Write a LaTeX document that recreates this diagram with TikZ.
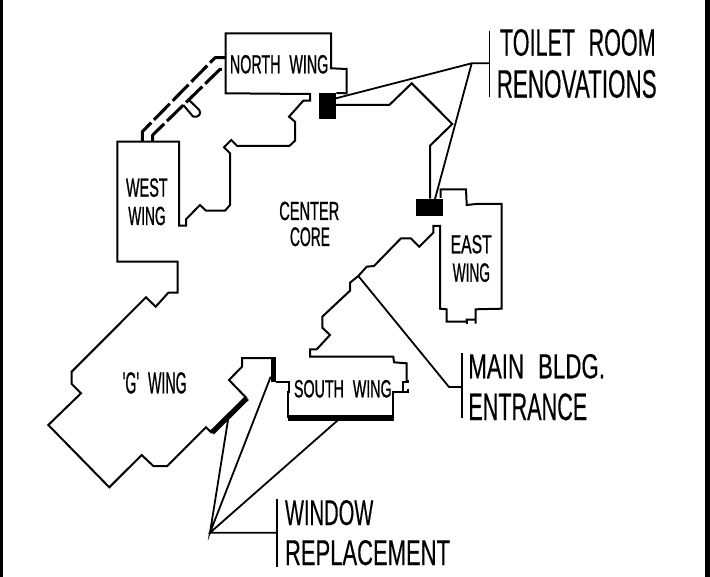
\documentclass[tikz,border=0pt]{standalone}
\usepackage{fontspec}
\setmainfont{Liberation Sans}
\newfontfamily\labf[FakeBold=1.2]{Liberation Sans}
\newfontfamily\biglabf[FakeBold=0.4]{Liberation Sans}
\newlength{\pxu}\setlength{\pxu}{0.75pt}
\tikzset{
  outline/.style={line width=1.5pt,line join=miter,line cap=butt},
  leader/.style={line width=1.35pt},
  tick/.style={line width=1.2pt},
  heavy/.style={line width=4pt},
  dashrun/.style={line width=2.3pt,dash pattern=on 17pt off 3pt,line join=round},
  blk/.style={fill=black,draw=none,inner sep=0pt,rectangle},
  lab/.style={anchor=north west,inner sep=0pt,outer sep=0pt},
}
\newcommand{\wgap}{\hspace{0.35em}}
\newcommand{\lbl}[6]{\node[lab] (#1) at (#2,#3) {\resizebox{#4\pxu}{#5\pxu}{\labf #6}};}
\newcommand{\biglbl}[6]{\node[lab] (#1) at (#2,#3) {\resizebox{#4\pxu}{#5\pxu}{\biglabf #6}};}
\begin{document}
\begin{tikzpicture}[x=0.75pt,y=-0.75pt]
\useasboundingbox (0,0) rectangle (710,577);
\fill[white] (0,0) rectangle (710,577);
\fill[black] (0,0) rectangle (3,577);
\fill[black] (705,0) rectangle (710,577);

% black blocks
\node[blk,minimum width=12.5pt,minimum height=19pt] (boxN) at (327.7,106) {};
\node[blk,minimum width=20pt,minimum height=12.5pt] (boxE) at (429.3,207.3) {};

% building outline
\draw[outline] (boxN.north east) -- (346.7,93.3) -- (346.7,69) -- (331,68.3) -- (331,33.3) -- (225.7,33.3) -- (225.7,93.3)
 -- (310,94) -- (310,100.7) -- (303.3,100.7) -- (289,116.7) -- (295,121.7) -- (295,140.7) -- (289.3,146) -- (237.3,146)
 -- (231.3,140) -- (224,147.3) -- (230,153.3) -- (230,205) -- (225,210.7) -- (206,210.7) -- (200,205) -- (186,219.3)
 -- (186,225.7) -- (179,225.7) -- (179,141.7) -- (117.3,141.7) -- (117.3,261.7) -- (177.7,261.7) -- (177.7,292.7)
 -- (168.3,292.7) -- (155.7,306.7) -- (146,297.3) -- (71.7,371.7) -- (71.7,384) -- (81,393.3) -- (48.3,425)
 -- (109.3,487.3) -- (141.7,455) -- (153.3,466) -- (167.3,466) -- (206,427.3) -- (212,433);
\draw[outline] (246.7,398.3) -- (229,380) -- (242,366.7) -- (242,358) -- (272,358);
\draw[outline] (276,381.7) -- (289.3,381.7) -- (289.3,391.7) -- (288.3,391.7) -- (288.3,418);
\draw[outline] (393.3,418) -- (393.3,392) -- (407.7,392) -- (407.7,389);
\draw[outline] (403.3,392) -- (403.3,382) -- (407.7,382) -- (407.7,380);
\draw[outline] (406.7,382) -- (406.7,363.3) -- (394,362.3) -- (393.3,356.7) -- (310,356.7) -- (310,349.3) -- (316.7,349.3)
 -- (330,335) -- (322.3,327.7) -- (322.3,316.7) -- (350,290.7) -- (350,282.7) -- (358.3,276) -- (366.7,266.7) -- (374,266)
 -- (401,238.3) -- (410.7,238.3) -- (419.3,246.7) -- (433.3,232.7) -- (433.3,226) -- (440,226) -- (440,308.7) -- (446.5,309.3)
 -- (446.5,321.7) -- (466.5,321.7) -- (466.5,319.5) -- (475.7,319.5);
\draw[outline] (466.5,320) -- (466.5,323.5);
\draw[outline] (475.7,323.5) -- (475.7,309.3) -- (501.7,308.7)
 -- (501.7,204) -- (476,204) -- (466.7,205) -- (466,189.3) -- (440.7,189.3) -- (440.7,198);
\draw[outline] (boxE.north -| 430,0) -- (430,145.7) -- (452.3,124) -- (411.7,83.3) -- (389.3,105) -- (336,105);

% heavy window segments
\draw[heavy] (212,432.5) -- (247,398);
\draw[heavy] (273.3,357.3) -- (273.3,381.7);
\draw[heavy] (288,418) -- (393.5,418);

% dashed links
\draw[dashrun] (142.3,141.7) -- (142.3,131.7) -- (215,57.7) -- (225.7,57.7);
\draw[dashrun] (152.7,141.7) -- (152.7,135) -- (220,69.3) -- (225.7,69.3);
\draw[line width=1.5pt] (188.3,99.3) -- (199.3,110) .. controls (202,114) and (198,118) .. (193,116.5) -- (183.3,105);

% leaders
\coordinate (tj) at (471.7,63.3);
\coordinate (tb) at (489.3,63.3);
\coordinate (nleader) at (336,98.3);
\coordinate (eleader) at (435,199);
\draw[leader] (nleader) -- (tj) -- (tb);
\draw[leader] (eleader) -- (tj);
\draw[tick] (489.3,30.7) -- (489.3,96.7);

\coordinate (mstart) at (358.3,276);
\coordinate (mj) at (449,387);
\draw[leader] (mstart) -- (mj) -- (461.7,387);
\draw[tick] (461.7,352.7) -- (461.7,418.3);

\coordinate (wj) at (210,532.7);
\coordinate (w1) at (228,420);
\coordinate (w2) at (270.7,376.7);
\coordinate (w3) at (337.3,420.7);
\draw[leader] (w1) -- (wj) -- (w2);
\draw[leader] (w3) -- (wj) -- (276.7,532.7);
\draw[tick] (276.7,499.3) -- (276.7,566.7);

% labels
\lbl{north}{230}{55}{98.3}{18.3}{NORTH\wgap{} WING}
\lbl{west}{126}{178.3}{41.7}{18.4}{WEST}
\lbl{westb}{128.3}{206.7}{37.4}{18.3}{WING}
\lbl{center}{279.3}{201.7}{60}{18.3}{CENTER}
\lbl{core}{290}{227.3}{40}{18.7}{CORE}
\lbl{east}{450.7}{235}{41}{18.3}{EAST}
\lbl{eastb}{452.7}{263.3}{37.3}{18.4}{WING}
\lbl{gw}{122.7}{372.3}{64}{21}{'G'\wgap{} WING}
\lbl{south}{294}{380}{97.7}{17.3}{SOUTH\wgap{} WING}
\biglbl{toilet}{500}{29}{155.7}{26.7}{TOILET\wgap{} ROOM}
\biglbl{reno}{496.7}{70}{160}{27.7}{RENOVATIONS}
\biglbl{main}{468.3}{354}{136.7}{24.3}{MAIN\wgap{} BLDG.}
\biglbl{entr}{468.3}{393.3}{119}{26.7}{ENTRANCE}
\biglbl{wind}{285}{500}{88.3}{25}{WINDOW}
\biglbl{repl}{285}{540}{165}{25}{REPLACEMENT}
\end{tikzpicture}
\end{document}
